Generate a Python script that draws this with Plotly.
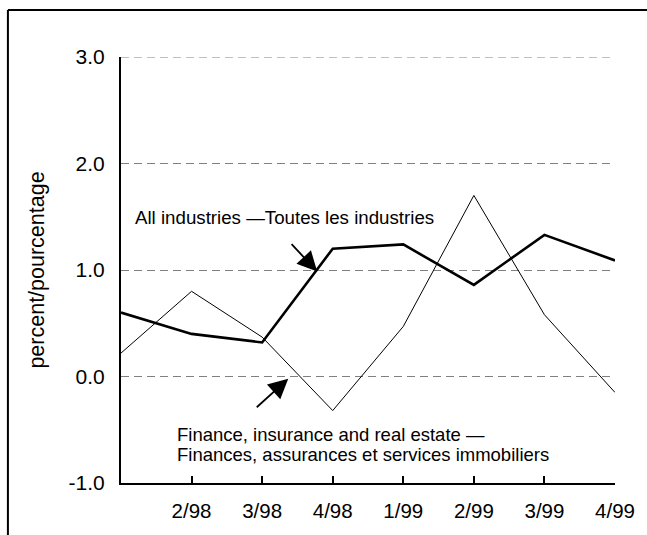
import plotly.graph_objects as go

quarters = ["1/98", "2/98", "3/98", "4/98", "1/99", "2/99", "3/99", "4/99"]
tick_labels = ["", "2/98", "3/98", "4/98", "1/99", "2/99", "3/99", "4/99"]
all_industries = [0.60, 0.40, 0.32, 1.20, 1.24, 0.86, 1.33, 1.09]
finance = [0.22, 0.80, 0.37, -0.32, 0.47, 1.70, 0.58, -0.15]
y_ticks = [-1.0, 0.0, 1.0, 2.0, 3.0]
y_tick_labels = ["-1.0", "0.0", "1.0", "2.0", "3.0"]
y_max = 3.0

FONT = "Liberation Sans, Arial, sans-serif"
GRID = dict(color="#808080", width=1, dash="8px,5px")

fig = go.Figure()
fig.add_trace(go.Scatter(x=quarters, y=finance, mode="lines",
                         line=dict(color="black", width=1), showlegend=False))
fig.add_trace(go.Scatter(x=quarters, y=all_industries, mode="lines",
                         line=dict(color="black", width=2.6), showlegend=False))

fig.update_layout(
    width=647, height=535,
    margin=dict(l=121, r=28, t=57, b=52),
    paper_bgcolor="white", plot_bgcolor="white",
    font=dict(family=FONT, color="black", size=20),
    showlegend=False,
)
fig.update_xaxes(
    type="category", range=[0, 7],
    tickvals=quarters, ticktext=tick_labels,
    showline=True, linecolor="black", linewidth=2,
    ticks="inside", ticklen=7, tickwidth=2, tickcolor="black",
    showgrid=False, zeroline=False,
    tickfont=dict(size=20.5), ticklabelstandoff=8,
)
fig.update_yaxes(
    range=[-1, y_max], tickvals=y_ticks, ticktext=y_tick_labels,
    showline=True, linecolor="black", linewidth=2,
    ticks="", showgrid=True, gridcolor=GRID["color"], gridwidth=1,
    griddash=GRID["dash"], zeroline=False,
    tickfont=dict(size=21), ticklabelstandoff=10,
    title=dict(text="percent/pourcentage", font=dict(size=21.5), standoff=18),
)

# top gridline (Plotly omits the grid line lying on the plot edge)
fig.add_shape(type="line", xref="paper", yref="y", x0=0, x1=1, y0=y_max, y1=y_max,
              line=GRID, layer="below")

# outer frame (left and top edges visible)
fig.add_shape(type="line", xref="paper", yref="paper",
              x0=(7 - 121) / 498, x1=(7 - 121) / 498, y0=-0.3, y1=(483 - 10) / 426,
              line=dict(color="black", width=2))
fig.add_shape(type="line", xref="paper", yref="paper",
              x0=(7 - 121) / 498, x1=1.1, y0=(483 - 10) / 426, y1=(483 - 10) / 426,
              line=dict(color="black", width=2))

# labels
fig.add_annotation(x=0.17, y=1.49, xref="x", yref="y", xanchor="left", yanchor="middle",
                   text="All industries \u2014Toutes les industries", showarrow=False,
                   font=dict(size=18.7))
fig.add_annotation(x=0.76, y=-0.545, xref="x", yref="y", xanchor="left", yanchor="middle",
                   text="Finance, insurance and real estate \u2014", showarrow=False,
                   font=dict(size=18.5))
fig.add_annotation(x=0.76, y=-0.733, xref="x", yref="y", xanchor="left", yanchor="middle",
                   text="Finances, assurances et services immobiliers", showarrow=False,
                   font=dict(size=18.5))

# arrows
fig.add_annotation(x=2.78, y=0.985, xref="x", yref="y", ax=-27, ay=-29,
                   text="", showarrow=True, arrowhead=2, arrowsize=2.2, arrowwidth=1.8,
                   arrowcolor="black")
fig.add_annotation(x=2.37, y=-0.02, xref="x", yref="y", ax=-33, ay=30,
                   text="", showarrow=True, arrowhead=2, arrowsize=2.2, arrowwidth=1.8,
                   arrowcolor="black")

fig.write_html("out.html", config={"displayModeBar": False},
               post_script="document.body.style.margin='0';")
